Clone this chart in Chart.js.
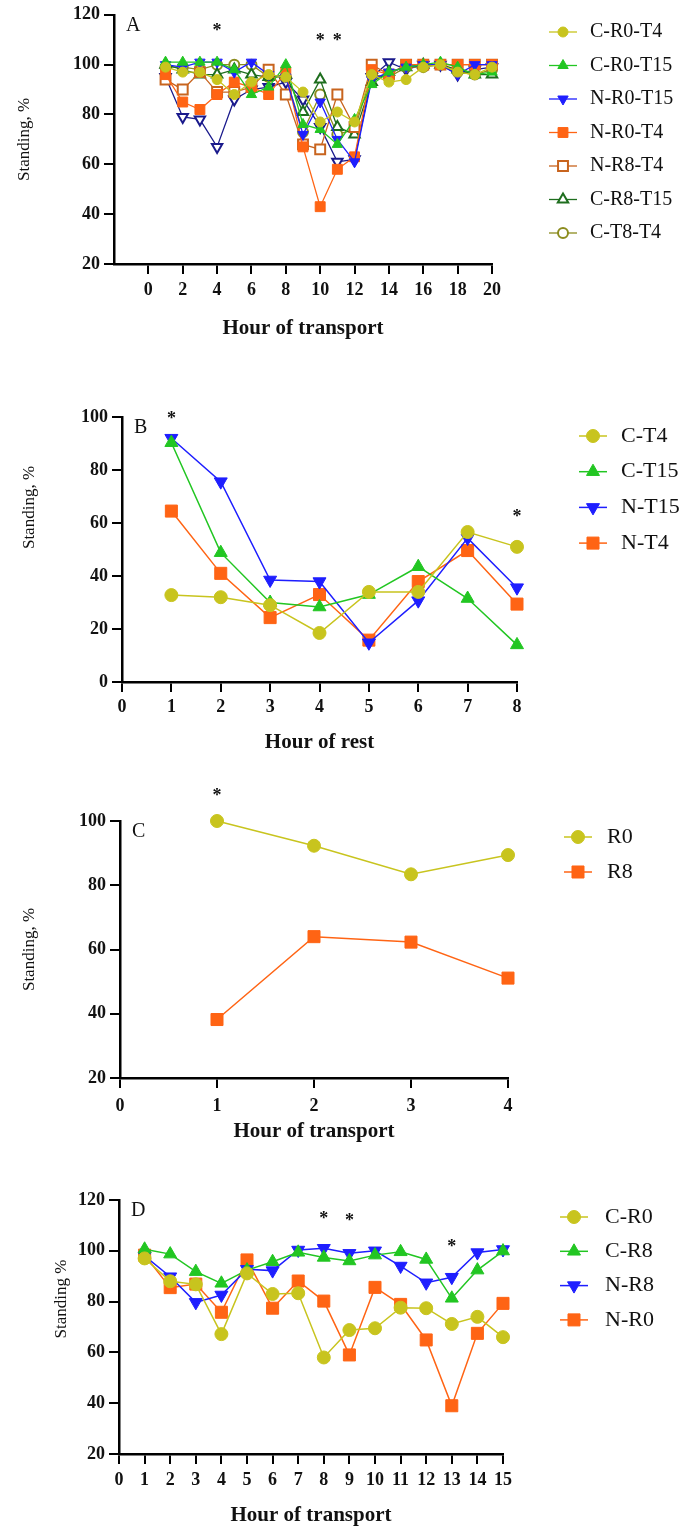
<!DOCTYPE html>
<html>
<head>
<meta charset="utf-8">
<title>Standing, %</title>
<script src="https://cdn.jsdelivr.net/npm/chart.js@4.4.1/dist/chart.umd.min.js"></script>
<style>
    body { margin: 0; background: #fff; }
    #page { position: relative; width: 700px; height: 1533px; }
    #page canvas { position: absolute; left: 0; }
</style>
</head>
<body>
<div id="page">
    <canvas id="chartA" width="700" height="352" style="top:0"></canvas>
    <canvas id="chartB" width="700" height="400" style="top:362px"></canvas>
    <canvas id="chartC" width="700" height="380" style="top:770px"></canvas>
    <canvas id="chartD" width="700" height="383" style="top:1150px"></canvas>
</div>
<script>
/* Standing %, four panels */

// Panel A: hour of transport, 8 groups (last one has no legend entry)
const hoursA = [1, 2, 3, 4, 5, 6, 7, 8, 9, 10, 11, 12, 13, 14, 15, 16, 17, 18, 19, 20];
const aCR0T4  = [99, 97, 97, 94, 88, 93, 96, 95, 89, 77, 81, 77, 96, 93, 94, 99, 100, 97, 96, 99];
const aCR0T15 = [101, 101, 101, 101, 98, 88, 91, 100, 76, 74, 68, 78, 92, 97, 99, 100, 101, 99, 96, 97];
const aNR0T15 = [100, 99, 101, 101, 97, 101, 96, 95, 72, 85, 70, 61, 94, 97, 99, 100, 100, 96, 100, 100];
const aNR0T4  = [96, 85, 82, 88, 93, 91, 88, 97, 67, 43, 58, 63, 98, 96, 100, 100, 100, 100, 100, 100];
const aNR8T4  = [94, 90, 97, 89, 89, 91, 98, 88, 68, 66, 88, 75, 100, 96, 100, 100, 100, 100, 100, 100];
const aCR8T15 = [100, 98, 96, 96, 98, 96, 95, 96, 81, 94, 75, 72, 93, 97, 99, 100, 100, 98, 96, 96];
const aCT8T4  = [99, 99, 98, 100, 100, 100, 95, 95, 73, 88, 72, 74, 96, 95, 99, 99, 100, 97, 96, 98];
const aNR8T15 = [95, 79, 78, 67, 86, 90, 91, 93, 86, 75, 61, 62, 95, 101, 98, 100, 100, 96, 98, 99];
const starsA = [[4, 115], [10, 111], [11, 111]];

// Panel B: hour of rest
const hoursB = [1, 2, 3, 4, 5, 6, 7, 8];
const bCT4  = [32.8, 32, 29, 18.5, 34, 34, 56.6, 51];
const bCT15 = [90.3, 48.8, 30, 28.3, 33, 43.5, 31.5, 14];
const bNT15 = [92, 75.6, 38.5, 37.9, 14.8, 30.7, 54.3, 35.6];
const bNT4  = [64.5, 41, 24.3, 33, 15.8, 37.9, 49.6, 29.4];
const starsB = [[1, 100.5], [8, 63.5]];

// Panel C: hour of transport, R0 vs R8
const hoursC = [1, 2, 3, 4];
const cR0 = [100, 92.3, 83.4, 89.4];
const cR8 = [38.2, 64, 62.3, 51.1];
const starsC = [[1, 109]];

// Panel D: hour of transport, 15 h
const hoursD = [1, 2, 3, 4, 5, 6, 7, 8, 9, 10, 11, 12, 13, 14, 15];
const dCR0 = [97, 88, 86.8, 67.2, 91.1, 83, 83.3, 58, 68.8, 69.5, 77.6, 77.4, 71.2, 74, 66];
const dCR8 = [100.6, 98.7, 91.8, 87.2, 92.4, 95.7, 99.4, 97.4, 96, 98.3, 99.6, 96.6, 81.3, 92.4, 99.9];
const dNR8 = [98, 89.8, 79.7, 82.6, 92.7, 92.2, 100.3, 101, 99, 100, 94, 87.4, 89.6, 99.3, 100.5];
const dNR0 = [98.3, 85.5, 86.9, 75.8, 96.4, 77.4, 88.1, 80.2, 59, 85.6, 78.9, 64.9, 39, 67.5, 79.3];
const starsD = [[8, 114], [9, 113], [13, 103]];

const SERIF = "'Liberation Serif', 'Times New Roman', serif";
const INK = "#111";

const YEL = "#c8c41e", GREEN = "#22c622", BLUE = "#1e1eff", ORANGE = "#ff6414";
const BROWN = "#c8641e", DKGREEN = "#1e6e1e", OLIVE = "#8c8c1e", NAVY = "#1a1a8c";

// small and large marker sets
const markA = { circle: 5, triangle: 6, rect: 7 };
const markB = { circle: 6.5, triangle: 7.5, rect: 8.5 };

function series(label, hours, values, color, style, opts = {}) {
    const sizes = opts.sizes || markB;
    const open = !!opts.open;
    return {
        label: label,
        data: hours.map((h, i) => ({ x: h, y: values[i] })),
        borderColor: opts.lineColor || color,
        borderWidth: opts.lineWidth || 1.5,
        tension: 0,
        fill: false,
        clip: false,
        pointStyle: style,
        pointRotation: opts.down ? 180 : 0,
        pointRadius: sizes[style],
        pointBackgroundColor: open ? "#fff" : color,
        pointBorderColor: color,
        pointBorderWidth: open ? 2 : 1,
        noLegend: !!opts.noLegend
    };
}

// panel letter, significance stars, y title and a line+marker legend
const decor = {
    id: "decor",
    afterDraw(chart, args, o) {
        const { ctx, chartArea } = chart;
        const xs = chart.scales.x, ys = chart.scales.y;
        ctx.save();
        ctx.fillStyle = INK;
        ctx.textBaseline = "middle";

        ctx.textAlign = "left";
        ctx.font = "20px " + SERIF;
        ctx.fillText(o.letter, chartArea.left + 12, chartArea.top + 11);

        ctx.textAlign = "center";
        ctx.font = "bold 18px " + SERIF;
        o.stars.forEach(([sx, sy]) => {
            ctx.fillText("*", xs.getPixelForValue(sx), ys.getPixelForValue(sy) + 4);
        });

        ctx.save();
        ctx.translate(o.yTitleX, (chartArea.top + chartArea.bottom) / 2 + o.yTitleShift);
        ctx.rotate(-Math.PI / 2);
        ctx.font = "17px " + SERIF;
        ctx.fillText(o.yTitle, 0, 0);
        ctx.restore();

        const lg = o.legend;
        let k = 0;
        chart.data.datasets.forEach(ds => {
            if (ds.noLegend) return;
            const y = lg.y + k * lg.gap;
            k++;
            ctx.strokeStyle = ds.borderColor;
            ctx.lineWidth = ds.borderWidth;
            ctx.beginPath();
            ctx.moveTo(lg.x - lg.half, y);
            ctx.lineTo(lg.x + lg.half, y);
            ctx.stroke();
            ctx.fillStyle = ds.pointBackgroundColor;
            ctx.strokeStyle = ds.pointBorderColor;
            ctx.lineWidth = ds.pointBorderWidth;
            Chart.helpers.drawPoint(ctx, {
                pointStyle: ds.pointStyle,
                radius: ds.pointRadius,
                rotation: ds.pointRotation,
                borderWidth: ds.pointBorderWidth
            }, lg.x, y);
            ctx.fillStyle = INK;
            ctx.textAlign = "left";
            ctx.font = lg.size + "px " + SERIF;
            ctx.fillText(ds.label, lg.textX, y);
        });
        ctx.restore();
    }
};

const tickFont = { family: SERIF, size: 18, weight: "bold" };
const axisGrid = { display: true, drawOnChartArea: false, drawTicks: true, tickLength: 10, color: "#000", lineWidth: 2 };
const axisBorder = { display: true, color: "#000", width: 2.5 };

function panel(id, p) {
    return new Chart(document.getElementById(id), {
        type: "line",
        data: { datasets: p.datasets },
        options: {
            responsive: false,
            animation: false,
            events: [],
            layout: { padding: { top: p.padTop, right: p.padRight, bottom: 0, left: 0 } },
            plugins: {
                legend: { display: false },
                tooltip: { enabled: false },
                decor: p.decor
            },
            scales: {
                x: {
                    type: "linear",
                    min: p.xMin,
                    max: p.xMax,
                    afterFit: s => { s.height = p.xAxisH; },
                    afterBuildTicks: s => { s.ticks = s.ticks.filter(t => t.value >= 0); },
                    ticks: { stepSize: p.xStep, autoSkip: false, maxRotation: 0, font: tickFont, color: INK, padding: p.xTickPad },
                    grid: axisGrid,
                    border: axisBorder,
                    title: {
                        display: true,
                        text: p.xTitle,
                        color: INK,
                        font: { family: SERIF, size: 21, weight: "bold" },
                        padding: { top: 0, bottom: p.xTitlePad }
                    }
                },
                y: {
                    min: p.yMin,
                    max: p.yMax,
                    afterFit: s => { s.width = p.yAxisW; },
                    ticks: { stepSize: 20, font: tickFont, color: INK, padding: 4 },
                    grid: axisGrid,
                    border: axisBorder
                }
            }
        },
        plugins: [decor]
    });
}

document.addEventListener("DOMContentLoaded", () => {
    panel("chartA", {
        datasets: [
            series("C-R0-T4", hoursA, aCR0T4, YEL, "circle", { sizes: markA, lineWidth: 1.3 }),
            series("C-R0-T15", hoursA, aCR0T15, GREEN, "triangle", { sizes: markA, lineWidth: 1.3 }),
            series("N-R0-T15", hoursA, aNR0T15, BLUE, "triangle", { sizes: markA, lineWidth: 1.3, down: true }),
            series("N-R0-T4", hoursA, aNR0T4, ORANGE, "rect", { sizes: markA, lineWidth: 1.3 }),
            series("N-R8-T4", hoursA, aNR8T4, BROWN, "rect", { sizes: markA, lineWidth: 1.3, open: true }),
            series("C-R8-T15", hoursA, aCR8T15, DKGREEN, "triangle", { sizes: markA, lineWidth: 1.3, open: true }),
            series("C-T8-T4", hoursA, aCT8T4, OLIVE, "circle", { sizes: markA, lineWidth: 1.3, open: true }),
            series("N-R8-T15", hoursA, aNR8T15, NAVY, "triangle", { sizes: markA, lineWidth: 1.3, open: true, down: true, noLegend: true })
        ],
        padTop: 14, padRight: 208, yAxisW: 114, xAxisH: 88,
        xMin: -2, xMax: 20, xStep: 2, yMin: 20, yMax: 120,
        xTickPad: 6, xTitle: "Hour of transport", xTitlePad: 11,
        decor: {
            letter: "A", stars: starsA, yTitle: "Standing, %", yTitleX: 25, yTitleShift: 0,
            legend: { x: 563, y: 32, gap: 33.5, half: 14, textX: 590, size: 20 }
        }
    });

    panel("chartB", {
        datasets: [
            series("C-T4", hoursB, bCT4, YEL, "circle"),
            series("C-T15", hoursB, bCT15, GREEN, "triangle"),
            series("N-T15", hoursB, bNT15, BLUE, "triangle", { down: true }),
            series("N-T4", hoursB, bNT4, ORANGE, "rect")
        ],
        padTop: 55, padRight: 183, yAxisW: 122, xAxisH: 80,
        xMin: 0, xMax: 8, xStep: 1, yMin: 0, yMax: 100,
        xTickPad: 5, xTitle: "Hour of rest", xTitlePad: 7,
        decor: {
            letter: "B", stars: starsB, yTitle: "Standing, %", yTitleX: 30, yTitleShift: -42,
            legend: { x: 593, y: 74, gap: 35.7, half: 14, textX: 621, size: 22 }
        }
    });

    panel("chartC", {
        datasets: [
            series("R0", hoursC, cR0, YEL, "circle"),
            series("R8", hoursC, cR8, ORANGE, "rect")
        ],
        padTop: 51, padRight: 192, yAxisW: 120, xAxisH: 72,
        xMin: 0, xMax: 4, xStep: 1, yMin: 20, yMax: 100,
        xTickPad: 8, xTitle: "Hour of transport", xTitlePad: 6,
        decor: {
            letter: "C", stars: starsC, yTitle: "Standing, %", yTitleX: 30, yTitleShift: 0,
            legend: { x: 578, y: 67, gap: 35, half: 14, textX: 607, size: 22 }
        }
    });

    panel("chartD", {
        datasets: [
            series("C-R0", hoursD, dCR0, YEL, "circle"),
            series("C-R8", hoursD, dCR8, GREEN, "triangle"),
            series("N-R8", hoursD, dNR8, BLUE, "triangle", { down: true }),
            series("N-R0", hoursD, dNR0, ORANGE, "rect")
        ],
        padTop: 50, padRight: 197, yAxisW: 119, xAxisH: 79,
        xMin: 0, xMax: 15, xStep: 1, yMin: 20, yMax: 120,
        xTickPad: 6, xTitle: "Hour of transport", xTitlePad: 5,
        decor: {
            letter: "D", stars: starsD, yTitle: "Standing %", yTitleX: 62, yTitleShift: -28,
            legend: { x: 574, y: 67, gap: 34.3, half: 14, textX: 605, size: 22 }
        }
    });
});
</script>
</body>
</html>
